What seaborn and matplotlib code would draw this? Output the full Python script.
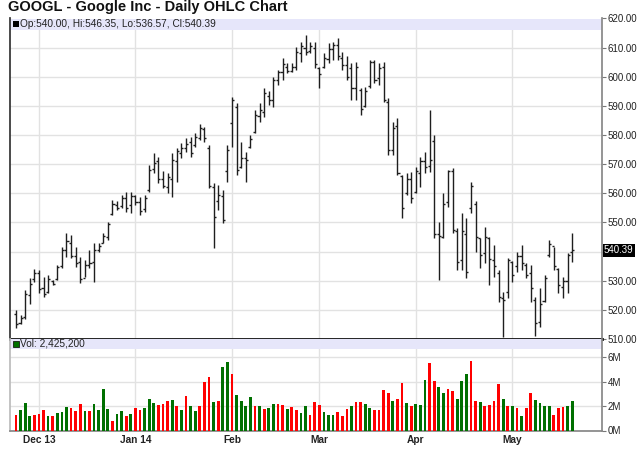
import numpy as np
import pandas as pd
import seaborn as sns
import matplotlib.pyplot as plt

# daily GOOGL bars, 22 Nov 2013 .. 20 May 2014
holidays = ['2013-11-28', '2013-12-25', '2014-01-01', '2014-01-20', '2014-02-17', '2014-04-18']
dates = pd.bdate_range('2013-11-22', '2014-05-20', freq='C', holidays=holidays)

high = [519.8, 518.3, 526.8, 531.0, 534.0, 533.7, 531.4, 532.0, 530.2, 535.4,
        541.7, 546.3, 545.7, 541.7, 538.3, 537.1, 540.5, 542.8, 542.8, 546.3,
        550.3, 557.7, 557.2, 559.5, 560.6, 560.6, 559.5, 558.9, 559.5, 569.7,
        573.7, 572.6, 567.5, 566.9, 573.7, 575.5, 577.2, 578.9, 579.5, 580.6,
        583.7, 582.9, 576.6, 563.4, 562.9, 561.2, 576.6, 593.2, 590.9, 577.7,
        574.3, 580.0, 588.6, 590.9, 596.1, 595.0, 600.0, 602.3, 606.3, 604.6,
        604.6, 610.3, 612.1, 614.3, 612.0, 612.0, 603.5, 608.0, 611.5, 612.1,
        613.2, 608.6, 607.0, 604.6, 605.2, 596.1, 596.6, 605.8, 605.8, 604.6,
        605.2, 592.6, 584.6, 585.7, 566.3, 566.9, 567.4, 569.1, 572.6, 574.3,
        588.6, 580.0, 550.3, 560.0, 568.0, 568.6, 548.0, 553.1, 551.4, 564.0,
        557.2, 544.6, 548.6, 545.1, 542.3, 533.7, 526.2, 537.7, 536.6, 540.0,
        542.3, 536.0, 535.4, 524.5, 527.4, 532.0, 544.0, 541.7, 534.3, 531.4,
        539.4, 546.35]
low = [513.8, 515.0, 516.8, 522.0, 529.7, 525.7, 524.5, 525.7, 528.5, 530.2,
       534.3, 538.3, 537.7, 534.8, 529.1, 531.4, 534.3, 529.7, 540.0, 542.8,
       544.0, 552.6, 554.3, 554.9, 553.7, 553.1, 556.0, 552.6, 553.7, 560.6,
       566.9, 563.4, 561.7, 560.0, 558.9, 564.0, 572.0, 574.3, 572.6, 576.0,
       578.3, 577.7, 561.7, 541.1, 554.3, 549.7, 564.0, 576.0, 566.3, 568.6,
       564.0, 575.5, 580.6, 584.6, 586.3, 590.3, 589.7, 597.2, 598.9, 601.2,
       601.8, 602.3, 605.2, 607.5, 608.0, 603.0, 596.0, 603.0, 604.6, 605.8,
       605.8, 602.3, 598.9, 592.0, 592.0, 586.9, 589.7, 596.0, 597.8, 597.2,
       591.5, 573.2, 573.2, 566.3, 551.4, 559.4, 556.6, 560.0, 562.3, 566.9,
       567.4, 544.6, 530.2, 544.6, 555.4, 546.3, 533.7, 533.7, 530.8, 553.1,
       540.0, 534.3, 536.0, 528.5, 531.4, 522.8, 510.7, 524.0, 529.7, 533.1,
       533.7, 530.8, 522.8, 511.0, 514.2, 522.8, 538.3, 533.7, 525.7, 524.0,
       525.7, 536.57]
open_ = [518.5, 515.5, 517.5, 525.0, 530.5, 532.5, 527.5, 526.0, 530.0, 530.5,
         535.0, 540.5, 543.0, 538.5, 536.5, 531.0, 535.5, 536.5, 540.5, 543.0,
         545.0, 553.0, 556.0, 555.5, 558.5, 556.0, 559.0, 557.0, 554.5, 561.0,
         568.5, 571.0, 565.0, 562.0, 565.0, 571.0, 574.0, 575.5, 577.5, 576.5,
         579.0, 582.0, 575.5, 562.0, 557.5, 559.0, 567.5, 584.0, 589.5, 569.0,
         572.0, 576.0, 581.0, 586.5, 588.0, 593.5, 592.0, 599.0, 601.5, 603.5,
         602.0, 603.5, 608.0, 610.0, 609.0, 610.0, 603.0, 603.5, 606.0, 609.5,
         611.0, 606.5, 604.0, 603.0, 596.0, 595.5, 590.0, 597.0, 605.0, 599.5,
         603.5, 591.5, 575.0, 583.0, 566.0, 560.0, 565.0, 560.5, 567.0, 571.0,
         569.5, 578.0, 546.0, 545.0, 557.0, 567.5, 547.0, 537.0, 546.0, 555.0,
         556.5, 544.5, 539.5, 544.5, 537.0, 532.5, 524.0, 526.0, 536.5, 535.0,
         538.5, 535.5, 532.5, 523.5, 516.0, 523.0, 539.0, 542.0, 534.0, 528.0,
         530.0, 540.00]
close = [515.0, 517.2, 525.5, 529.0, 532.8, 527.0, 525.5, 530.5, 529.0, 534.8,
         540.5, 543.5, 538.5, 536.0, 530.5, 535.5, 536.0, 540.5, 541.8, 545.5,
         549.5, 556.5, 555.0, 558.5, 555.0, 559.0, 557.0, 554.0, 558.5, 568.0,
         570.5, 565.0, 562.5, 565.5, 571.5, 574.5, 575.5, 577.0, 574.0, 579.5,
         582.5, 579.0, 562.5, 552.0, 559.5, 551.0, 575.0, 592.0, 568.0, 572.0,
         571.5, 578.5, 587.0, 588.5, 594.5, 592.0, 599.0, 601.5, 604.5, 602.0,
         603.5, 608.5, 610.5, 608.5, 610.5, 604.5, 601.0, 606.5, 609.5, 611.0,
         607.0, 604.0, 600.0, 596.0, 603.5, 589.0, 595.0, 605.0, 599.0, 603.0,
         592.0, 575.0, 582.5, 567.0, 555.0, 565.0, 558.5, 567.5, 571.0, 569.0,
         571.5, 546.0, 545.5, 556.5, 567.5, 547.5, 536.5, 547.0, 533.0, 562.5,
         545.0, 539.0, 545.0, 537.5, 535.0, 524.5, 523.5, 537.0, 532.0, 538.5,
         536.0, 532.0, 527.5, 515.5, 522.0, 531.0, 542.5, 535.0, 528.5, 530.0,
         539.0, 540.39]

# volume in millions of shares, colour (G up / R down)
volume = [1.30, 1.70, 2.26, 1.16, 1.24, 1.38, 1.70, 1.20, 1.16, 1.46,
          1.54, 1.90, 1.80, 1.63, 2.20, 1.63, 1.63, 2.20, 1.68, 3.36,
          1.76, 0.77, 1.38, 1.60, 1.20, 1.38, 1.85, 1.70, 1.85, 2.60,
          2.26, 2.12, 2.20, 2.42, 2.53, 1.98, 1.70, 2.80, 1.98, 1.63,
          1.98, 3.94, 4.40, 2.29, 2.45, 5.23, 5.60, 4.63, 2.90, 2.45,
          1.98, 2.73, 1.98, 2.04, 1.76, 1.85, 2.20, 2.15, 2.12, 1.76,
          1.90, 1.70, 1.46, 1.98, 1.30, 2.37, 2.12, 1.50, 1.24, 1.30,
          1.50, 1.20, 1.76, 1.98, 2.34, 2.34, 2.18, 1.85, 1.68, 1.68,
          3.28, 3.10, 2.45, 2.60, 3.86, 2.26, 1.98, 2.18, 2.12, 4.10,
          5.48, 4.02, 3.58, 3.03, 3.36, 3.20, 2.60, 4.02, 4.63, 5.67,
          2.45, 2.37, 1.98, 2.12, 2.45, 3.77, 2.60, 2.04, 2.04, 1.85,
          1.20, 1.85, 3.10, 2.53, 2.26, 1.98, 2.04, 1.30, 1.85, 1.90,
          1.98, 2.4252]
vol_dir = list("RGGGRRRGRG" "GGRRRGRGGG" "GRGGRGRRGG" "GRRRGRGRGG"
               "RRRGRGGRGG" "GGRGRGGRRG" "RRGGRRRGGG" "RRRGRRGGRR"
               "RRGRRGRGGG" "RRGGRRGGGR" "RGRRRRGRGR" "GRRGGGGRRR" "GG")

month_labels = ['Dec 13', 'Jan 14', 'Feb', 'Mar', 'Apr', 'May']
price_ticks = list(range(510, 621, 10))
vol_ticks = [0, 2, 4, 6]

df = pd.DataFrame({'date': dates, 'open': open_, 'high': high, 'low': low,
                   'close': close, 'vol': volume, 'dir': vol_dir})
df['i'] = np.arange(len(df))
month_idx = df.groupby(df.date.dt.to_period('M'))['i'].first().values[1:]

sns.set_theme(style='white')
plt.rcParams['font.family'] = ['Liberation Sans', 'DejaVu Sans']

W, H = 640, 468
fig = plt.figure(figsize=(6.4, 4.68), dpi=100)
ax = fig.add_axes([9.5 / W, 1 - 339 / H, (602 - 9.5) / W, (339 - 18.5) / H])
ax2 = fig.add_axes([9.5 / W, 1 - 430.5 / H, (602 - 9.5) / W, (430.5 - 339) / H])

band = '#e6e6fa'
grid_c = '#e2e2e2'
xlim = (-1.4, 127.5)
pw = 592.5  # axes width in px, for legend offsets

# price panel
ax.axhspan(616.05, 620, color=band, zorder=1.5, lw=0)
ax.vlines(df.i, df.low, df.high, color='#1e1e1e', lw=1.0, zorder=3)
ax.hlines(df.open, df.i - 0.45, df.i, color='#1e1e1e', lw=1.0, zorder=3)
ax.hlines(df.close, df.i, df.i + 0.45, color='#1e1e1e', lw=1.0, zorder=3)
ax.set_xlim(*xlim)
ax.set_ylim(510, 620)
ax.set_yticks(price_ticks)
ax.set_yticklabels(['' if t == 540 else f'{t:.2f}' for t in price_ticks])
ax.set_xticks(month_idx)
ax.set_axisbelow(True)
ax.grid(True, color=grid_c, lw=1)
ax.yaxis.tick_right()
ax.tick_params(axis='y', right=True, length=3, width=0.8, color='#777777',
               pad=1, labelsize=7, labelcolor='#222222')
ax.tick_params(axis='x', length=0, labelbottom=False)
ax.spines['top'].set_visible(False)
ax.spines['left'].set_color('#333333')
ax.spines['right'].set_color('#888888')
ax.spines['bottom'].set_color('#111111')
ax.spines['bottom'].set_linewidth(2)
ax.scatter([6.5 / pw], [618.0], marker='s', s=14, color='black', linewidth=0,
           transform=ax.get_yaxis_transform(), zorder=4, clip_on=False)
ax.text(11 / pw, 618.0,
        f'Op:{open_[-1]:.2f}, Hi:{high[-1]:.2f}, Lo:{low[-1]:.2f}, Cl:{close[-1]:.2f}',
        fontsize=7.3, va='center', ha='left', color='#222222',
        transform=ax.get_yaxis_transform(), zorder=4)
ax.text(1.003, close[-1], f'{close[-1]:.2f}', fontsize=7, color='white',
        va='center', ha='left', transform=ax.get_yaxis_transform(),
        bbox=dict(boxstyle='square,pad=0.12', fc='black', ec='none'))

# volume panel
sns.barplot(data=df, x='i', y='vol', hue='dir', palette={'G': '#007000', 'R': '#ff0000'},
            native_scale=True, width=0.6, dodge=False, legend=False, saturation=1,
            linewidth=0, ax=ax2, zorder=3)
ax2.axhspan(6.7, 7.48, color=band, zorder=1.5, lw=0)
ax2.set_xlim(*xlim)
ax2.set_ylim(0, 7.48)
ax2.set_yticks(vol_ticks)
ax2.set_yticklabels([f'{v}M' for v in vol_ticks])
ax2.set_xticks(month_idx)
ax2.set_xticklabels(month_labels, fontweight='bold')
ax2.set_xlabel('')
ax2.set_ylabel('')
ax2.set_axisbelow(True)
ax2.grid(True, color=grid_c, lw=1)
ax2.yaxis.tick_right()
ax2.tick_params(axis='y', right=True, length=3, width=0.8, color='#777777',
                pad=1, labelsize=7, labelcolor='#222222')
ax2.tick_params(axis='x', length=0, pad=3, labelsize=7.3, labelcolor='#222222')
ax2.spines['top'].set_visible(False)
ax2.spines['left'].set_color('#bbbbbb')
ax2.spines['right'].set_color('#888888')
ax2.spines['bottom'].set_color('#888888')
ax2.scatter([6.5 / pw], [7.08], marker='s', s=14, color='#007000',
            edgecolor='black', linewidth=0.5, transform=ax2.get_yaxis_transform(),
            zorder=4, clip_on=False)
ax2.text(11 / pw, 7.08, f'Vol: {int(round(volume[-1] * 1e6)):,}', fontsize=7.3,
         va='center', ha='left', color='#222222',
         transform=ax2.get_yaxis_transform(), zorder=4)

fig.text(8 / W, 1 - 7.5 / H, 'GOOGL - Google Inc - Daily OHLC Chart',
         fontsize=10.5, fontweight='bold', va='center', ha='left', color='#111111')

fig.savefig('out.png', dpi=100, facecolor='white')
